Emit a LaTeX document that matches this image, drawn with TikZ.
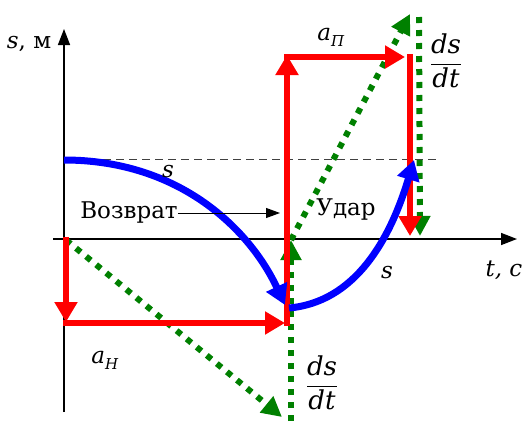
\documentclass[tikz,border=0pt]{standalone}
\usepackage{fontspec}
\setmainfont{DejaVu Serif}
\usetikzlibrary{arrows.meta}
\definecolor{dgreen}{RGB}{0,128,0}
\newcommand\mydsdt{{\fontsize{26}{30}\selectfont$\displaystyle\frac{\textit{ds}}{\textit{dt}}$}}
\newcommand\mysub[1]{\raisebox{-6pt}{\fontsize{15}{18}\selectfont\textit{#1}}}
\begin{document}
\begin{tikzpicture}[x=1pt,y=-1pt,
  axis/.style={line width=1.5pt,-{Triangle[width=12pt,length=16pt]}},
  redarr/.style={draw=red,line width=6pt,-{Triangle[width=22pt,length=20pt]}},
  bluearr/.style={draw=blue,line width=7pt,-{Triangle[width=22pt,length=20pt]}},
  greenarr/.style={draw=dgreen,line width=6pt,dash pattern=on 6pt off 7pt,-{Triangle[width=20pt,length=20pt]}},
  lbl/.style={font=\fontsize{23}{26}\selectfont, inner sep=0pt},
  thinarr/.style={line width=1pt,-{Triangle[width=10pt,length=14pt]}}
]
\useasboundingbox (0,0) rectangle (528,421);
% coordinates
\coordinate (vb) at (64,412);
\coordinate (vt) at (64,29);
\coordinate (hl) at (53,239);
\coordinate (hr) at (517,239);
\coordinate (dl) at (64,159);
\coordinate (dr) at (438,159);
% axes
\draw[axis] (vb) -- (vt);
\draw[axis] (hl) -- (hr);
\draw[dashed,line width=1pt,dash pattern=on 8pt off 5pt,black!75] (dl) -- (dr);
% green
\coordinate (g1a) at (66,240);
\coordinate (g1b) at (282,417);
\coordinate (g2a) at (291,421);
\coordinate (g2b) at (291,240);
\coordinate (g3a) at (291,240);
\coordinate (g3b) at (410,14);
\coordinate (g4a) at (419,17);
\coordinate (g4b) at (420,236);
\draw[greenarr] (g1a) -- (g1b);
\draw[greenarr] (g2a) -- (g2b);
\draw[greenarr] (g3a) -- (g3b);
\draw[greenarr] (g4a) -- (g4b);
% red
\coordinate (r1a) at (66,237);
\coordinate (r1b) at (66,322);
\coordinate (r2a) at (63,323);
\coordinate (r2b) at (285,323);
\coordinate (r3a) at (287,326);
\coordinate (r3b) at (287,55);
\coordinate (r4a) at (284,57);
\coordinate (r4b) at (405,57);
\coordinate (r5a) at (410,54);
\coordinate (r5b) at (410,236);
\draw[redarr] (r1a) -- (r1b);
\draw[redarr] (r2a) -- (r2b);
\draw[redarr] (r3a) -- (r3b);
\draw[redarr] (r4a) -- (r4b);
\draw[redarr] (r5a) -- (r5b);
% blue
\coordinate (b1a) at (64,160);
\coordinate (b1b) at (285,305);
\coordinate (b2a) at (289,308);
\coordinate (b2b) at (414,160);
\draw[bluearr] (b1a) .. controls (180,160) and (250,230) .. (b1b);
\draw[bluearr] (b2a) .. controls (355,302) and (390,240) .. (b2b);
% labels
\node[lbl] (ls) at (29,44) {\textit{s}, м};
\node[lbl] (lt) at (504,270) {\textit{t, c}};
\node[lbl] (lap) at (331,37) {\textit{a}\mysub{П}};
\node[lbl] (ld1) at (446,61) {\mydsdt};
\node[lbl] (ld2) at (322,383) {\mydsdt};
\node[lbl] (ls1) at (168,172) {\textit{s}};
\node[lbl] (ls2) at (387,273) {\textit{s}};
\node[lbl] (lan) at (105,360) {\textit{a}\mysub{Н}};
\node[lbl] (lv) at (129,213) {Возврат};
\node[lbl] (lu) at (346,210) {Удар};
\coordinate (vtip) at (280,213);
\draw[thinarr] (lv.east) -- (vtip);
\end{tikzpicture}
\end{document}
